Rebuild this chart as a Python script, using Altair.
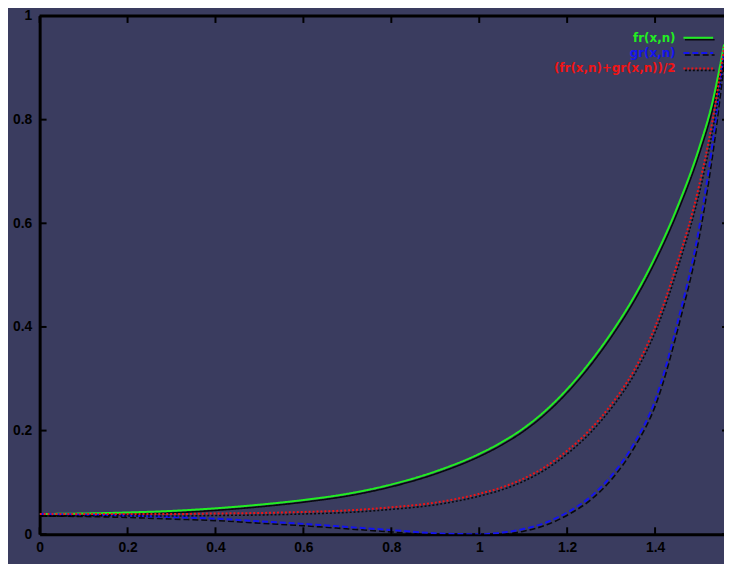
import altair as alt
import pandas as pd

# ---- data ----
x_vals = [0.0, 0.1, 0.2, 0.3, 0.4, 0.5, 0.6, 0.7, 0.8, 0.9, 1.0, 1.05, 1.1,
          1.15, 1.2, 1.25, 1.3, 1.35, 1.4, 1.45, 1.5, 1.53, 1.557]
fr_vals = [0.039, 0.040, 0.042, 0.045, 0.050, 0.057, 0.066, 0.078, 0.096,
           0.121, 0.155, 0.177, 0.204, 0.238, 0.280, 0.330, 0.388, 0.455,
           0.535, 0.630, 0.745, 0.832, 0.945]
gr_vals = [0.039, 0.038, 0.036, 0.033, 0.030, 0.025, 0.020, 0.014, 0.008,
           0.002, 0.000, 0.003, 0.010, 0.022, 0.042, 0.070, 0.112, 0.172,
           0.258, 0.405, 0.590, 0.750, 0.935]
avg_vals = [0.039, 0.039, 0.039, 0.039, 0.040, 0.041, 0.043, 0.046, 0.052,
            0.061, 0.078, 0.090, 0.107, 0.130, 0.161, 0.200, 0.250, 0.313,
            0.400, 0.522, 0.672, 0.795, 0.940]

series_names = ["fr(x,n)", "gr(x,n)", "(fr(x,n)+gr(x,n))/2"]
series_colors = ["#22ee22", "#1414f0", "#f01414"]
series_dash = [[1, 0], [6, 3], [2, 2]]
x_ticks = [0, 0.2, 0.4, 0.6, 0.8, 1.0, 1.2, 1.4]
y_ticks = [0, 0.2, 0.4, 0.6, 0.8, 1.0]

# ---- layout / style ----
W, H = 692, 524
BG = "#3a3c5f"
FONT = "Liberation Sans"
LEG_FONT = "DejaVu Sans"

xs = alt.Scale(domain=[0, 1.5568], nice=False, zero=False)
ys = alt.Scale(domain=[0, 1], nice=False)

x_axis = alt.Axis(values=x_ticks, format="~g", title=None, grid=False, ticks=False,
                  domainColor="black", domainWidth=3, labelFont=FONT,
                  labelFontSize=14, labelFontWeight="bold", labelColor="black",
                  labelPadding=6, labelFlush=False)
y_axis = alt.Axis(values=y_ticks, format="~g", title=None, grid=False, ticks=False,
                  domainColor="black", domainWidth=3, labelFont=FONT,
                  labelFontSize=14, labelFontWeight="bold", labelColor="black",
                  labelPadding=8, labelFlush=False)

x_enc = alt.X("x:Q", scale=xs, axis=x_axis)
y_enc = alt.Y("y:Q", scale=ys, axis=y_axis)

layers = []

series_vals = [fr_vals, gr_vals, avg_vals]
for name, vals, color, dash in zip(series_names, series_vals, series_colors, series_dash):
    d = pd.DataFrame({"x": x_vals, "y": vals})
    base = alt.Chart(d)
    layers.append(base.mark_line(color="black", strokeWidth=1.6, strokeDash=dash,
                                 strokeOpacity=0.85, xOffset=1.5, yOffset=2,
                                 interpolate="monotone", clip=True).encode(x=x_enc, y=y_enc))
    layers.append(base.mark_line(color=color, strokeWidth=2, strokeDash=dash,
                                 interpolate="monotone", clip=True).encode(x=x_enc, y=y_enc))

# inward tick marks
xt = alt.Chart(pd.DataFrame({"x": x_ticks}))
layers.append(xt.mark_rule(color="black", strokeWidth=2).encode(
    x=x_enc, y=alt.value(H), y2=alt.value(H - 7)))
layers.append(xt.mark_rule(color="black", strokeWidth=2).encode(
    x=x_enc, y=alt.value(0), y2=alt.value(7)))
yt = alt.Chart(pd.DataFrame({"y": y_ticks}))
layers.append(yt.mark_rule(color="black", strokeWidth=2).encode(
    y=y_enc, x=alt.value(0), x2=alt.value(7)))
layers.append(yt.mark_rule(color="black", strokeWidth=2).encode(
    y=y_enc, x=alt.value(W - 2), x2=alt.value(W)))

# top frame
layers.append(alt.Chart(pd.DataFrame({"a": [0]})).mark_rule(color="black", strokeWidth=3).encode(
    x=alt.value(0), x2=alt.value(W), y=alt.value(0)))

# legend
legend_y = [22, 37.5, 53]
for name, color, dash, ly in zip(series_names, series_colors, series_dash, legend_y):
    ld = alt.Chart(pd.DataFrame({"label": [name]}))
    layers.append(ld.mark_text(align="right", baseline="middle", font=LEG_FONT, fontSize=12,
                               fontWeight="bold", color=color).encode(
        x=alt.value(643), y=alt.value(ly), text="label:N"))
    layers.append(ld.mark_rule(color="black", strokeWidth=1.6, strokeDash=dash,
                               strokeOpacity=0.85).encode(
        x=alt.value(652.5), x2=alt.value(682.5), y=alt.value(ly + 2)))
    layers.append(ld.mark_rule(color=color, strokeWidth=2, strokeDash=dash).encode(
        x=alt.value(651), x2=alt.value(681), y=alt.value(ly)))

chart = alt.layer(*layers).properties(
    width=W, height=H,
    autosize=alt.AutoSizeParams(type="none"),
    padding={"left": 32, "top": 5, "right": 0, "bottom": 27},
    background=BG,
).configure_view(stroke=None, fill=BG)

chart.save("out.html", embed_options={"renderer": "svg", "actions": False})
